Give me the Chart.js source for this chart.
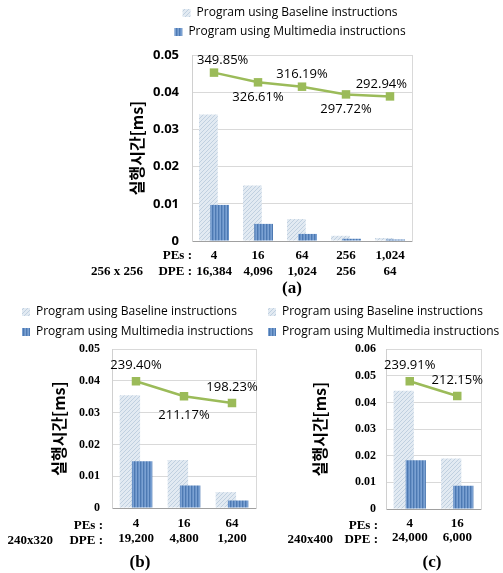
<!DOCTYPE html>
<html><head><meta charset="utf-8">
<script src="https://cdn.jsdelivr.net/npm/chart.js@4/dist/chart.umd.min.js"></script>
<style>
html,body{margin:0;padding:0;background:#fff;width:503px;height:573px;overflow:hidden;position:relative}
canvas{position:absolute}
.lbl{position:absolute;font-family:"Liberation Serif","Times New Roman",serif;font-weight:bold;font-size:13px;white-space:nowrap;color:#000;text-align:right}
.cap{position:absolute;font-family:"Liberation Serif","Times New Roman",serif;font-weight:bold;font-size:17px;line-height:20px;white-space:nowrap;color:#000;text-align:center;width:40px}
</style></head><body>
<canvas id="ca" width="360" height="287" style="left:110px;top:0px"></canvas>
<canvas id="cb" width="276" height="257" style="left:14px;top:298px"></canvas>
<canvas id="cc" width="260" height="254" style="left:260px;top:298px"></canvas>
<div id="txt"></div>
<script>
// ---------- data ----------
const legendLabels = ['Program using Baseline instructions', 'Program using Multimedia instructions'];
const yTitle = '실행시간[ms]';
const rowLabels = ['PEs :', 'DPE :'];
const sizeLabels = ['256 x 256', '240x320', '240x400'];
const captions = ['(a)', '(b)', '(c)'];

// (a) 256 x 256
const peA = ['4', '16', '64', '256', '1,024'];
const dpeA = ['16,384', '4,096', '1,024', '256', '64'];
const baseA = [0.0340, 0.0149, 0.0059, 0.0014, 0.0008];
const mmA = [0.0097, 0.0046, 0.0019, 0.0006, 0.0004];
const speedA = [349.85, 326.61, 316.19, 297.72, 292.94];

// (b) 240x320
const peB = ['4', '16', '64'];
const dpeB = ['19,200', '4,800', '1,200'];
const baseB = [0.0355, 0.0151, 0.0050];
const mmB = [0.0147, 0.0071, 0.0024];
const speedB = [239.40, 211.17, 198.23];

// (c) 240x400
const peC = ['4', '16'];
const dpeC = ['24,000', '6,000'];
const baseC = [0.0444, 0.0190];
const mmC = [0.0183, 0.0087];
const speedC = [239.91, 212.15];

// ---------- styles ----------
const GREEN = '#9bbb59';
const SANS = '"Open Sans", "Noto Sans", sans-serif';
const SERIF = '"Liberation Serif", "Times New Roman", serif';
const KR = '"Noto Sans CJK KR", "Noto Sans", sans-serif';

function makePattern(draw, w, h) {
  const c = document.createElement('canvas');
  c.width = w; c.height = h;
  const g = c.getContext('2d');
  draw(g);
  return g.createPattern(c, 'repeat');
}
const basePat = makePattern(g => {
  g.fillStyle = '#e2eaf2'; g.fillRect(0, 0, 4, 4);
  g.fillStyle = '#c0d0e0';
  g.fillRect(3, 0, 1, 1); g.fillRect(2, 1, 1, 1); g.fillRect(1, 2, 1, 1); g.fillRect(0, 3, 1, 1);
}, 4, 4);
const mmPat = makePattern(g => {
  g.fillStyle = '#6892c8'; g.fillRect(0, 0, 3, 3);
  g.fillStyle = '#4d79b2'; g.fillRect(0, 0, 1, 3);
  g.fillStyle = '#7ba1d2'; g.fillRect(2, 0, 1, 3);
}, 3, 3);

// draws datasets flagged "underlay" before the others so that later bars overlap them
const underlayPlugin = {
  id: 'underlay',
  beforeDatasetsDraw(chart) {
    chart.data.datasets.forEach((ds, i) => {
      if (ds.underlay && chart.isDatasetVisible(i)) chart.getDatasetMeta(i).controller.draw();
    });
  },
  beforeDatasetDraw(chart, args) {
    if (chart.data.datasets[args.index].underlay) return false;
  }
};

const pctLabelPlugin = {
  id: 'pctLabels',
  afterDatasetsDraw(chart, args, opts) {
    const ctx = chart.ctx;
    const area = chart.chartArea;
    chart.data.datasets.forEach((ds, i) => {
      if (ds.type !== 'line') return;
      const meta = chart.getDatasetMeta(i);
      ctx.save();
      ctx.font = opts.font;
      ctx.fillStyle = opts.color;
      ctx.textAlign = 'center';
      ctx.textBaseline = 'middle';
      meta.data.forEach((pt, j) => {
        const txt = ds.data[j].toFixed(2) + '%';
        const w = ctx.measureText(txt).width;
        const below = opts.positions[j] === 'below';
        let x = pt.x;
        if (opts.clamp !== null && opts.clamp !== undefined) {
          x = Math.max(area.left + opts.clamp + w / 2, Math.min(area.right - opts.clamp - w / 2, x));
        }
        const y = below ? pt.y + opts.below : pt.y - opts.above;
        ctx.fillText(txt, x, y);
      });
      ctx.restore();
    });
  }
};

function makeChart(id, p) {
  const labels = p.pe.map((v, i) => [v, p.dpe[i]]);
  return new Chart(document.getElementById(id), {
    data: {
      labels: labels,
      datasets: [
        { type: 'line', label: 'speedup', data: p.speed, yAxisID: 'y1',
          borderColor: GREEN, backgroundColor: GREEN, borderWidth: 2.5,
          pointStyle: 'rect', pointRadius: 6, pointBackgroundColor: GREEN, pointBorderColor: GREEN, pointBorderWidth: 0, tension: 0 },
        { type: 'bar', label: legendLabels[0], data: p.base, yAxisID: 'y', underlay: true,
          backgroundColor: basePat, borderWidth: 0 },
        { type: 'bar', label: legendLabels[1], data: p.mm, yAxisID: 'y',
          backgroundColor: mmPat, borderWidth: 0 }
      ]
    },
    options: {
      responsive: false,
      animation: false,
      devicePixelRatio: 1,
      layout: { padding: 0 },
      datasets: { bar: { categoryPercentage: 0.51, barPercentage: 1.67 } },
      plugins: {
        tooltip: { enabled: false },
        title: { display: true, text: '', weight: 500, font: { size: 1 }, padding: { top: 0, bottom: p.gap } },
        legend: {
          position: 'top',
          align: p.legendAlign,
          labels: {
            boxWidth: 8, boxHeight: 8, padding: p.legendPad, color: '#000',
            font: { family: SANS, size: 12 },
            filter: (item) => item.datasetIndex !== 0,
            sort: (a, b) => a.datasetIndex - b.datasetIndex
          }
        },
        pctLabels: { font: '13px ' + SANS, color: '#000', positions: p.labelPos, above: p.above, below: p.below, clamp: p.clamp }
      },
      scales: {
        x: {
          type: 'category', offset: true,
          grid: { display: false, drawTicks: false },
          border: { display: true, color: '#a0a0a0', width: 1 },
          ticks: { color: '#000', padding: p.xPad, maxRotation: 0, autoSkip: false,
                   font: { family: SERIF, size: 13, weight: 'bold', lineHeight: p.xLine } }
        },
        y: {
          type: 'linear', min: 0, max: p.ymax,
          grid: { color: '#d9d9d9', drawTicks: false },
          border: { display: true, color: '#d0d0d0' },
          ticks: { stepSize: 0.01, color: '#000', padding: p.yPad, font: p.yFont },
          title: { display: true, text: yTitle, color: '#000',
                   font: { family: KR, size: 16, weight: 'bold' }, padding: { top: p.titlePad, bottom: 0 } },
          afterFit: (s) => { s.width = p.yWidth; }
        },
        y1: {
          type: 'linear', position: 'right', min: p.y1min, max: p.y1max,
          grid: { display: false, drawTicks: false },
          border: { display: true, color: '#d9d9d9' },
          ticks: { display: false },
          afterFit: (s) => { s.width = p.rWidth; }
        }
      }
    },
    plugins: [underlayPlugin, pctLabelPlugin]
  });
}

makeChart('ca', {
  pe: peA, dpe: dpeA, base: baseA, mm: mmA, speed: speedA,
  ymax: 0.05, y1min: -53, y1max: 392,
  legendAlign: 'center', legendPad: 7, gap: 5.8,
  labelPos: ['above', 'below', 'above', 'below', 'above'], above: 12, below: 15, clamp: 5,
  xPad: 7, xLine: 16 / 13, yPad: 13, yFont: { family: SANS, size: 13, weight: 'bold' },
  titlePad: 17.4, yWidth: 82, rWidth: 58
});
makeChart('cb', {
  pe: peB, dpe: dpeB, base: baseB, mm: mmB, speed: speedB,
  ymax: 0.05, y1min: 0, y1max: 300,
  legendAlign: 'start', legendPad: 8, gap: 0,
  labelPos: ['above', 'below', 'above'], above: 16, below: 19, clamp: null,
  xPad: 8.5, xLine: 15 / 13, yPad: 12, yFont: { family: SERIF, size: 12, weight: 'bold' },
  titlePad: 35, yWidth: 98, rWidth: 34
});
makeChart('cc', {
  pe: peC, dpe: dpeC, base: baseC, mm: mmC, speed: speedC,
  ymax: 0.06, y1min: 0, y1max: 300,
  legendAlign: 'start', legendPad: 8, gap: 0,
  labelPos: ['above', 'above'], above: 16, below: 16, clamp: null,
  xPad: 7, xLine: 14.5 / 13, yPad: 10, yFont: { family: SERIF, size: 12, weight: 'bold' },
  titlePad: 50.4, yWidth: 126, rWidth: 39
});

// ---------- side labels and captions ----------
const txt = document.getElementById('txt');
function addLabel(text, right, centerY, lineH, cls) {
  const d = document.createElement('div');
  d.className = cls;
  d.textContent = text;
  d.style.lineHeight = lineH + 'px';
  d.style.top = (centerY - lineH / 2) + 'px';
  if (cls === 'lbl') { d.style.left = (right - 100) + 'px'; d.style.width = '100px'; }
  else { d.style.left = (right - 20) + 'px'; }
  txt.appendChild(d);
}
// (a)
addLabel(rowLabels[0], 192, 255, 16, 'lbl');
addLabel(rowLabels[1], 192, 271, 16, 'lbl');
addLabel(sizeLabels[0], 143, 271, 16, 'lbl');
addLabel(captions[0], 292, 288, 20, 'cap');
// (b)
addLabel(rowLabels[0], 103, 524, 15, 'lbl');
addLabel(rowLabels[1], 103, 539, 15, 'lbl');
addLabel(sizeLabels[1], 53, 539, 15, 'lbl');
addLabel(captions[1], 140, 562, 20, 'cap');
// (c)
addLabel(rowLabels[0], 378, 524, 15, 'lbl');
addLabel(rowLabels[1], 378, 538, 15, 'lbl');
addLabel(sizeLabels[2], 333, 538, 15, 'lbl');
addLabel(captions[2], 432, 562, 20, 'cap');
</script>
</body></html>
